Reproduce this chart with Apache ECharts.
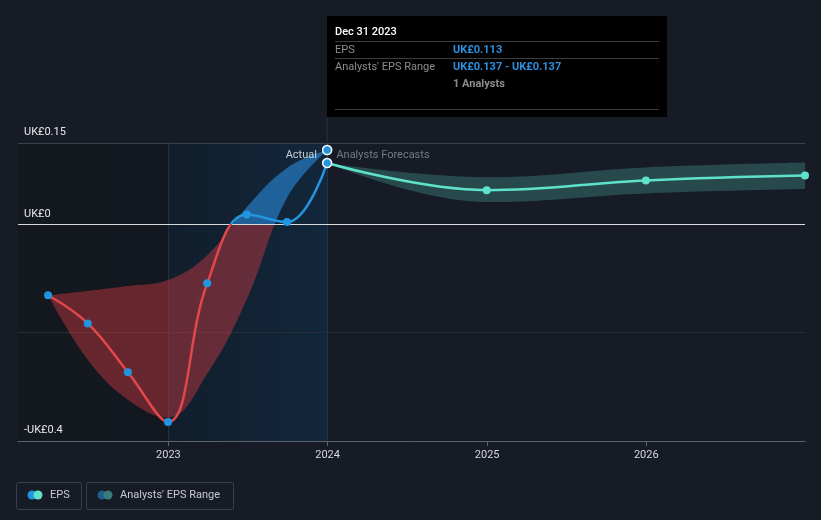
<!DOCTYPE html>
<html><head><meta charset="utf-8">
<script src="https://cdn.jsdelivr.net/npm/echarts@6/dist/echarts.min.js"></script>
<style>html,body{margin:0;padding:0;background:#161b26;} #c{width:821px;height:520px;}</style>
</head><body><div id="c"></div>
<script>
// ---------- data ----------
const pastDates = ['2022-03-31','2022-06-30','2022-09-30','2022-12-31','2023-03-31','2023-06-30','2023-09-30','2023-12-31'];
const epsValues = [-0.131,-0.183,-0.273,-0.365,-0.109,0.018,0.004,0.113];
const pastRangeLow = [-0.131,-0.250,-0.324,-0.357,-0.276,-0.138,0.049,0.137];
const pastRangeHigh = [-0.131,-0.123,-0.114,-0.103,-0.057,0.032,0.104,0.137];
const forecastDates = ['2023-12-31','2024-12-31','2025-12-31','2026-12-31'];
const forecastValues = [0.113,0.063,0.081,0.090];
const forecastLow = [0.113,0.041,0.057,0.065];
const forecastHigh = [0.113,0.087,0.105,0.114];
const actualRangeDate = '2023-12-31';
const actualRangeValue = 0.137;
const yLabelValues = [0.15, 0, -0.4];
const yGridValues = [0.15, -0.2];
const xMin = '2022-01-21', xMax = '2026-12-31';
const highlightStart = '2022-12-31', highlightEnd = '2023-12-31';

// ---------- helpers ----------
const ts = s => { const [y,m,d] = s.split('-').map(Number); return new Date(y, m-1, d).getTime(); };
const pair = (dates, vals) => dates.map((d,i) => [ts(d), vals[i]]);
const fmtUK = v => (v < 0 ? '-UK£' : 'UK£') + Math.abs(+v.toFixed(3));
const FONT = 'Roboto, "Noto Sans", sans-serif';
const BLUE = '#2394df', RED = '#e2474b', TEAL = '#5fe2cb';

const chart = echarts.init(document.getElementById('c'), null, {renderer:'canvas'});

function buildOption(y0frac, nowX) {
  const split = (top, bottom) => ({type:'linear', x:0, y:0, x2:0, y2:520, global:true,
    colorStops:[{offset:0,color:top},{offset:y0frac,color:top},{offset:y0frac,color:bottom},{offset:1,color:bottom}]});
  const bandFill = split('rgba(40,135,215,0.62)', 'rgba(210,58,66,0.44)');
  const lineFill = split(BLUE, RED);
  const epsData = pair(pastDates, epsValues).map((p,i) => i === pastDates.length-1
      ? {value:p, symbolSize:9, itemStyle:{color:BLUE, borderColor:'#fff', borderWidth:1.5}} : p);
  const fcData = pair(forecastDates, forecastValues).map((p,i) => i === 0 ? {value:p, symbol:'none'} : p);
  return {
    backgroundColor:'#161b26',
    animation:false,
    textStyle:{fontFamily:FONT},
    grid:{left:18, right:16, top:143, bottom:79, containLabel:false},
    xAxis:{type:'time', min:ts(xMin), max:ts(xMax),
      minInterval:365*86400000, maxInterval:366*86400000,
      axisLine:{show:true, onZero:false, lineStyle:{color:'#5c616a', width:1}},
      axisTick:{show:true, length:5, lineStyle:{color:'#5c616a'}},
      splitLine:{show:false},
      axisLabel:{color:'#d6d8dc', fontSize:11, fontFamily:FONT, margin:9,
        formatter: v => String(new Date(v).getFullYear())}},
    yAxis:{type:'value', min:-0.4, max:0.15, interval:0.05,
      axisLine:{show:false, onZero:false}, axisTick:{show:false}, splitLine:{show:false},
      axisLabel:{inside:true, margin:6, color:'#e6e7e9', fontSize:11, fontFamily:FONT,
        showMinLabel:true, showMaxLabel:true, hideOverlap:false,
        verticalAlign:'bottom', padding:[0,0,5,0],
        formatter: v => yLabelValues.some(t => Math.abs(t - v) < 1e-9) ? fmtUK(v) : ''}},
    graphic: nowX == null ? [] : [
      {type:'line', silent:true, z:0, shape:{x1:nowX, y1:117, x2:nowX, y2:143}, style:{stroke:'#22344a', lineWidth:1}},
      {type:'group', left:327, top:16, children:[
        {type:'rect', shape:{x:0,y:0,width:340,height:101}, style:{fill:'#000'}},
        {type:'text', x:8, y:16, style:{text:'Dec 31 2023', fill:'#fff', font:'500 11px '+FONT, verticalAlign:'middle'}},
        {type:'line', shape:{x1:8,y1:25.5,x2:332,y2:25.5}, style:{stroke:'#3e3e3e', lineWidth:1}},
        {type:'text', x:8, y:34, style:{text:'EPS', fill:'#8d8d8d', font:'11px '+FONT, verticalAlign:'middle'}},
        {type:'text', x:126, y:34, style:{text:'UK£0.113', fill:'#2d8fdf', font:'bold 11px '+FONT, verticalAlign:'middle'}},
        {type:'line', shape:{x1:8,y1:42.5,x2:332,y2:42.5}, style:{stroke:'#3e3e3e', lineWidth:1}},
        {type:'text', x:8, y:51, style:{text:"Analysts' EPS Range", fill:'#8d8d8d', font:'11px '+FONT, verticalAlign:'middle'}},
        {type:'text', x:126, y:51, style:{text:'UK£0.137 - UK£0.137', fill:'#2d8fdf', font:'bold 11px '+FONT, verticalAlign:'middle'}},
        {type:'text', x:126, y:68, style:{text:'1 Analysts', fill:'#8d8d8d', font:'bold 11px '+FONT, verticalAlign:'middle'}},
        {type:'line', shape:{x1:8,y1:93.5,x2:332,y2:93.5}, style:{stroke:'#3e3e3e', lineWidth:1}}
      ]},
      // legend
      {type:'rect', shape:{x:16.5,y:482.5,width:65,height:27,r:2}, style:{fill:'none', stroke:'#3a3f49', lineWidth:1}},
      {type:'circle', shape:{cx:32,cy:495,r:4.5}, style:{fill:BLUE}},
      {type:'circle', shape:{cx:38,cy:495,r:4.5}, style:{fill:TEAL}},
      {type:'text', x:50, y:495, style:{text:'EPS', fill:'#c9cbcf', font:'11px '+FONT, verticalAlign:'middle'}},
      {type:'rect', shape:{x:86.5,y:482.5,width:147,height:27,r:2}, style:{fill:'none', stroke:'#3a3f49', lineWidth:1}},
      {type:'circle', shape:{cx:102,cy:495,r:4.5}, style:{fill:'#1f5d8f'}},
      {type:'circle', shape:{cx:108,cy:495,r:4.5}, style:{fill:'#3b7c77'}},
      {type:'text', x:120, y:495, style:{text:"Analysts' EPS Range", fill:'#c9cbcf', font:'11px '+FONT, verticalAlign:'middle'}}
    ],
    series:[
      // background shading + grid lines
      {type:'line', name:'bg', data:[], z:0, silent:true, showSymbol:false,
        markArea:{silent:true, z:0, data:[
          [{xAxis:ts(xMin), itemStyle:{color:{type:'linear',x:0,y:0,x2:1,y2:0,colorStops:[{offset:0,color:'#14181f'},{offset:1,color:'#13171f'}]}}}, {xAxis:ts(highlightStart)}],
          [{xAxis:ts(highlightStart), itemStyle:{color:{type:'linear',x:0,y:0,x2:1,y2:0,colorStops:[{offset:0,color:'#111e2c'},{offset:1,color:'#12273c'}]}}}, {xAxis:ts(highlightEnd)}]
        ]},
        markLine:{silent:true, z:0, symbol:'none', label:{show:false},
          data:[
            ...yGridValues.map(v => ({yAxis:v, lineStyle:{color: v === yGridValues[0] ? '#3b414b' : '#272d37', width:1, type:'solid'}})),
            {xAxis:ts(highlightStart), lineStyle:{color:'#1c3047', width:1, type:'solid'}},
            {xAxis:ts(highlightEnd), lineStyle:{color:'#22344a', width:1, type:'solid'}}
          ]}},
      // past range band
      {type:'line', name:'pastLow', stack:'past', stackStrategy:'all', smooth:0.4, z:2, silent:true,
        data:pair(pastDates, pastRangeLow), symbol:'none', lineStyle:{opacity:0}},
      {type:'line', name:'pastHigh', stack:'past', stackStrategy:'all', smooth:0.4, z:2, silent:true,
        data:pair(pastDates, pastRangeHigh.map((h,i) => +(h - pastRangeLow[i]).toFixed(4))),
        symbol:'none', lineStyle:{opacity:0}, areaStyle:{color:bandFill, opacity:1}},
      // forecast range band
      {type:'line', name:'fcLow', stack:'fc', stackStrategy:'all', smooth:0.4, z:2, silent:true,
        data:pair(forecastDates, forecastLow), symbol:'none', lineStyle:{opacity:0}},
      {type:'line', name:'fcHigh', stack:'fc', stackStrategy:'all', smooth:0.4, z:2, silent:true,
        data:pair(forecastDates, forecastHigh.map((h,i) => +(h - forecastLow[i]).toFixed(4))),
        symbol:'none', lineStyle:{opacity:0}, areaStyle:{color:'rgba(72,150,140,0.38)', opacity:1}},
      // zero line
      {type:'line', name:'zero', data:[], z:3, silent:true,
        markLine:{silent:true, z:3, symbol:'none', label:{show:false},
          data:[{yAxis:0, lineStyle:{color:'#d9dadc', width:1.2, type:'solid'}}]}},
      // forecast line
      {type:'line', name:'forecast', smooth:0.4, z:4, data:fcData,
        symbol:'circle', symbolSize:8, showAllSymbol:true,
        itemStyle:{color:TEAL}, lineStyle:{color:TEAL, width:2.5}},
      // EPS line
      {type:'line', name:'EPS', smooth:0.4, z:5, data:epsData,
        symbol:'circle', symbolSize:8, showAllSymbol:true,
        itemStyle:{color:BLUE}, lineStyle:{color:lineFill, width:2.5}},
      // actual range point + labels
      {type:'scatter', name:'actual', z:6, symbolSize:9,
        itemStyle:{color:BLUE, borderColor:'#fff', borderWidth:1.5},
        data:[
          {value:[ts(actualRangeDate), actualRangeValue], label:{show:true, position:'left', distance:5, offset:[0,5], formatter:'Actual', color:'#f2f3f5', fontSize:11, fontFamily:FONT}},
          {value:[ts(actualRangeDate), actualRangeValue], label:{show:true, position:'right', distance:4, offset:[0,5], formatter:'Analysts Forecasts', color:'#8b9098', fontSize:11, fontFamily:FONT}}
        ]}
    ]
  };
}

chart.setOption(buildOption(0.43, null));
const y0 = chart.convertToPixel({yAxisIndex:0}, 0);
const nowX = chart.convertToPixel({xAxisIndex:0}, ts(highlightEnd));
chart.setOption(buildOption(y0/520, nowX), true);
</script>
</body></html>
